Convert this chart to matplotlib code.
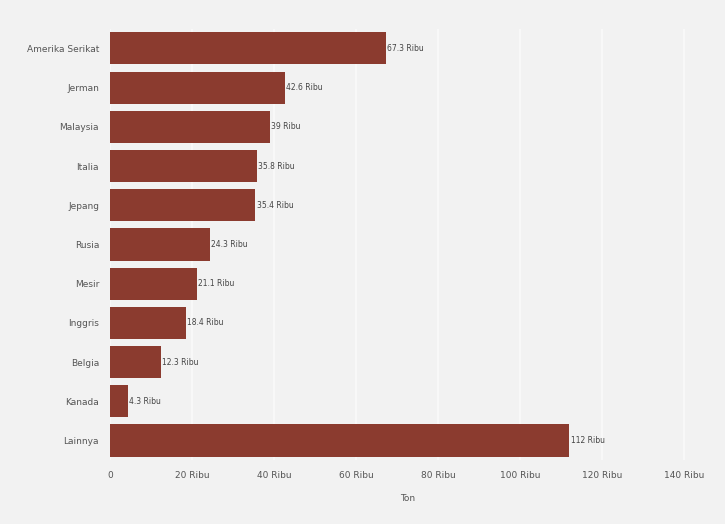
import matplotlib
matplotlib.use("Agg")
import matplotlib.pyplot as plt

countries = ["Amerika Serikat", "Jerman", "Malaysia", "Italia", "Jepang",
             "Rusia", "Mesir", "Inggris", "Belgia", "Kanada", "Lainnya"]
values = [67.3, 42.6, 39.0, 35.8, 35.4, 24.3, 21.1, 18.4, 12.3, 4.3, 112.0]
labels = ["67.3 Ribu", "42.6 Ribu", "39 Ribu", "35.8 Ribu", "35.4 Ribu",
          "24.3 Ribu", "21.1 Ribu", "18.4 Ribu", "12.3 Ribu", "4.3 Ribu", "112 Ribu"]
xticks = [0, 20, 40, 60, 80, 100, 120, 140]
xticklabels = ["0", "20 Ribu", "40 Ribu", "60 Ribu", "80 Ribu",
               "100 Ribu", "120 Ribu", "140 Ribu"]

bg = "#f2f2f2"
fig = plt.figure(figsize=(7.25, 5.24), dpi=100, facecolor=bg)
ax = fig.add_axes([0.152, 0.122, 0.82, 0.823], facecolor=bg)

y = list(range(len(countries)))
ax.barh(y, values, height=0.82, color="#8b3b2f", zorder=3)
for yi, v, lab in zip(y, values, labels):
    ax.text(v + 0.3, yi, lab, va="center", ha="left", fontsize=5.5,
            color="#444444", zorder=4)

ax.set_ylim(len(countries) - 0.5, -0.5)
ax.set_xlim(0, 145)
ax.set_yticks(y)
ax.set_yticklabels(countries, fontsize=6.5, color="#555555")
ax.set_xticks(xticks)
ax.set_xticklabels(xticklabels, fontsize=6.5, color="#555555")
ax.set_xlabel("Ton", fontsize=6.5, color="#555555", labelpad=10)
ax.tick_params(length=0, pad=8)
ax.grid(axis="x", color="#fafafa", linewidth=1.2, zorder=0)
for s in ax.spines.values():
    s.set_visible(False)

fig.savefig("out.png", dpi=100, facecolor=bg)
